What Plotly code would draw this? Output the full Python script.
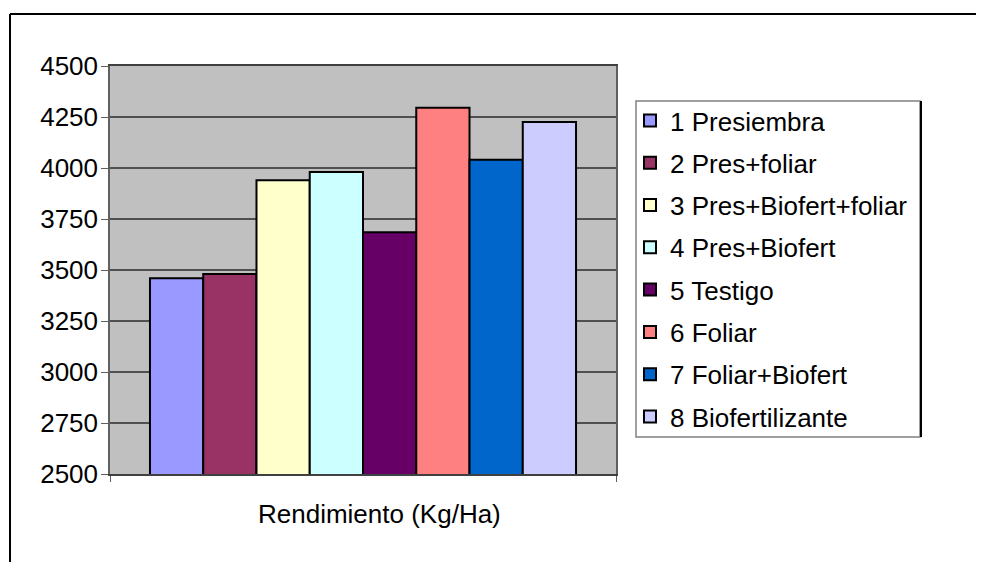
import plotly.graph_objects as go

categories = ["Rendimiento (Kg/Ha)"]
series_names = ["1 Presiembra", "2 Pres+foliar", "3 Pres+Biofert+foliar", "4 Pres+Biofert",
                "5 Testigo", "6 Foliar", "7 Foliar+Biofert", "8 Biofertilizante"]
values = [3460, 3480, 3940, 3980, 3685, 4295, 4040, 4225]
colors = ["#9999FF", "#993366", "#FFFFCC", "#CCFFFF", "#660066", "#FF8080", "#0066CC", "#CCCCFF"]
y_ticks = [2500, 2750, 3000, 3250, 3500, 3750, 4000, 4250, 4500]

OFF = 8  # default page body margin
W, H = 984 - OFF, 562 - OFF
L, R, T, B = 110 - OFF, 616 - OFF, 66 - OFF, 474 - OFF

def px(x):
    return (x - OFF - L) / (R - L)

def py(y):
    return (B - (y - OFF)) / (B - T)

fig = go.Figure()
for i, (name, v, c) in enumerate(zip(series_names, values, colors)):
    fig.add_trace(go.Bar(
        x=categories, y=[v], name=name, legendgroup="g%d" % i,
        marker=dict(color=c, line=dict(color="black", width=2)),
    ))

fig.update_layout(
    width=W, height=H,
    margin=dict(l=L, r=W - R, t=T, b=H - B, pad=0),
    paper_bgcolor="white", plot_bgcolor="#C0C0C0",
    barmode="group", bargap=0.158, bargroupgap=0,
    font=dict(family="Liberation Sans, Arial", size=26, color="black"),
    showlegend=True,
    legend=dict(x=px(630), y=py(97), xanchor="left", yanchor="top",
                bgcolor="rgba(0,0,0,0)", borderwidth=0,
                tracegroupgap=5.5, font=dict(size=26),
                itemwidth=30),
    xaxis=dict(type="category", showline=True, linecolor="#404040", linewidth=1.5,
               mirror=True, ticks="outside", tickson="boundaries", ticklen=6,
               tickcolor="#606060", showticklabels=False, showgrid=False,
               range=[-0.5, 0.5]),
    yaxis=dict(range=[2500, 4500], tickvals=y_ticks, ticktext=[str(t) for t in y_ticks],
               showline=True, linecolor="#606060", linewidth=1.5, mirror=True,
               ticks="outside", ticklen=7, tickcolor="#606060", ticklabelstandoff=-2,
               gridcolor="#505050", gridwidth=1.5, zeroline=False),
    annotations=[
        dict(text=categories[0], xref="paper", yref="paper", x=px(379), y=py(514),
             xanchor="center", yanchor="middle", showarrow=False, font=dict(size=26)),
    ],
    shapes=[
        dict(type="line", xref="paper", yref="paper",
             x0=px(10), x1=px(984), y0=py(14), y1=py(14),
             line=dict(color="black", width=2), layer="above"),
        dict(type="line", xref="paper", yref="paper",
             x0=px(10), x1=px(10), y0=py(562), y1=py(14),
             line=dict(color="black", width=2), layer="above"),
        dict(type="rect", xref="paper", yref="paper",
             x0=px(636), x1=px(920), y0=py(437), y1=py(101),
             line=dict(color="#808080", width=1.5), fillcolor="rgba(0,0,0,0)"),
        dict(type="line", xref="paper", yref="paper",
             x0=px(921), x1=px(921), y0=py(437), y1=py(101),
             line=dict(color="black", width=2)),
    ],
)

fig.write_html("out.html")
